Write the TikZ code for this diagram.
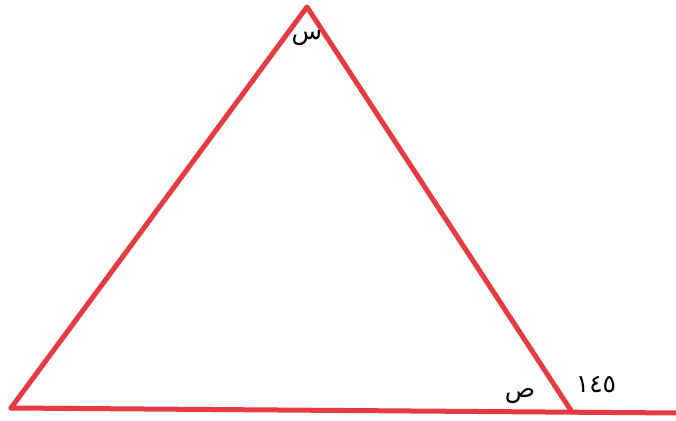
\documentclass[tikz,border=0pt]{standalone}
\usepackage{fontspec}
\newfontfamily\arabicfont[Script=Arabic]{DejaVu Sans}
\TeXXeTstate=1
\definecolor{trired}{RGB}{232, 58, 66}
\usetikzlibrary{calc}

\begin{document}
\begin{tikzpicture}[x=1pt, y=-1pt,
  edge/.style={draw=trired, line width=5pt, line join=round, line cap=round},
  albl/.style={font=\arabicfont\fontsize{25}{25}\selectfont, inner sep=0pt}
]
  \useasboundingbox (0,0) rectangle (676,420);
  \coordinate (apex) at (307,7);
  \coordinate (left) at (11,408);
  \coordinate (right) at (572,412);
  \coordinate (rayend) at (680,413);
  \draw[edge] (left) -- (apex) -- (right);
  \draw[edge] (left) -- (rayend);
  \node[albl] (angx) at (307,38) {\beginR س\endR};
  \node[albl] (angy) at (520,396) {\beginR ص\endR};
  \node[albl] (ext) at (596,385) {١٤٥};
\end{tikzpicture}
\end{document}
